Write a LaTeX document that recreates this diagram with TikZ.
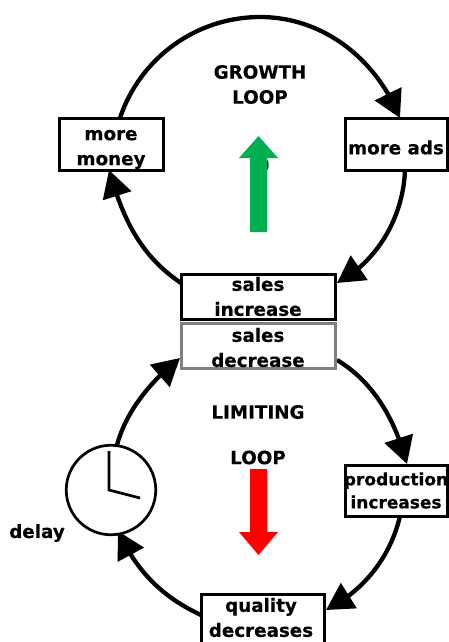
\documentclass[tikz,border=0pt]{standalone}
\usepackage{fontspec}
\setmainfont[BoldFeatures={FakeBold=0.4}]{DejaVu Sans}
\usetikzlibrary{arrows.meta,bending}
\definecolor{growgreen}{HTML}{00B050}
\tikzset{
  x=1pt,y=-1pt,
  txt/.style={font=\bfseries\fontsize{18.3}{25}\selectfont,align=center,inner sep=0pt,text=black},
  smalltxt/.style={font=\bfseries\fontsize{17}{23}\selectfont,align=center,inner sep=0pt,text=black},
  boxnode/.style={draw=black,line width=3pt,fill=white,inner sep=0pt,outer sep=0pt,sharp corners},
  loopline/.style={line width=4.3pt,draw=black,-{Triangle[length=27pt,width=29pt,flex=1]}},
  plainline/.style={line width=4.3pt,draw=black},
  clockline/.style={line width=2.7pt,draw=black},
}
\newcommand{\boxat}[6]{% name, x1,y1,x2,y2, colour
  \node[boxnode,draw=#6,minimum width=#4pt-#2pt,minimum height=#5pt-#3pt,anchor=north west] (#1) at (#2,#3) {};
}
\begin{document}
\begin{tikzpicture}
\useasboundingbox (0,0) rectangle (449,642);
% coordinates for connector ends
\coordinate (t1) at (120,118);
\coordinate (ttop) at (260,17);
\coordinate (t2) at (400,118);
\coordinate (r1) at (405,170);
\coordinate (r2) at (337,283);
\coordinate (l1) at (181,283);
\coordinate (l2) at (109,170);
\coordinate (s1) at (337,360);
\coordinate (s2) at (407,464);
\coordinate (p1) at (400,516);
\coordinate (p2) at (326,610);
\coordinate (q1) at (201,615);
\coordinate (q2) at (118,531);
\coordinate (c1) at (117,445);
\coordinate (c2) at (180,358);
% connectors
\draw[plainline] (t1) to[out=71.6,in=180,looseness=0.94] (ttop);
\draw[loopline] (ttop) to[out=0,in=112,looseness=0.94] (t2);
\draw[loopline] (r1) to[out=-92,in=28,looseness=0.9] (r2);
\draw[loopline] (l1) to[out=146,in=-74,looseness=0.95] (l2);
\draw[loopline] (s1) to[out=-31,in=105,looseness=0.9] (s2);
\draw[loopline] (p1) to[out=-103,in=27,looseness=0.9] (p2);
\draw[loopline] (q1) to[out=155,in=-65,looseness=0.95] (q2);
\draw[loopline] (c1) to[out=75,in=-142,looseness=0.85] (c2);
% boxes
\boxat{money}{59.7}{118}{163.5}{170}{black}
\boxat{ads}{345.5}{118}{447.5}{170}{black}
\boxat{sdec}{181.5}{323}{335.5}{368}{gray}
\boxat{sinc}{181.5}{274}{335.5}{319.5}{black}
\boxat{prod}{345.5}{465}{447.5}{516}{black}
\boxat{qual}{201.5}{594}{324.5}{660}{black}
% clock
\node[circle,draw=black,line width=2.7pt,fill=white,minimum size=89.5pt,inner sep=0pt,outer sep=0pt] (clock) at (111,490) {};
\coordinate (h1) at (109,451);
\coordinate (h2) at (109,490);
\coordinate (h3) at (140,498);
\draw[clockline] (h1) -- (h2) -- (h3);
% hidden glyph
\node[txt] (hidden) at (263,165) {0};
% arrows
\fill[growgreen] (250,232) -- (267,232) -- (267,158) -- (278,158) -- (258.5,136) -- (239,158) -- (250,158) -- cycle;
\fill[red] (250,469) -- (267,469) -- (267,532) -- (278,532) -- (258.5,555) -- (239,532) -- (250,532) -- cycle;
% texts
\node[txt] (tgrowth) at (260,84.5) {GROWTH\\LOOP};
\node[txt] (tlimit) at (258,412) {LIMITING};
\node[txt] (tloop) at (258,457.5) {LOOP};
\node[txt] (tmoney) at (111,149.5) {more\\money};
\node[txt] (tads) at (396,147.5) {more ads};
\node[txt] (tinc) at (258,296.5) {sales\\increase};
\node[txt] (tdec) at (258,347.5) {sales\\decrease};
\node[smalltxt] (tprod) at (396,490.5) {production\\increases};
\node[txt] (tqual) at (261,617.5) {quality\\decreases};
\node[txt] (tdelay) at (37,533) {delay};
\end{tikzpicture}
\end{document}
